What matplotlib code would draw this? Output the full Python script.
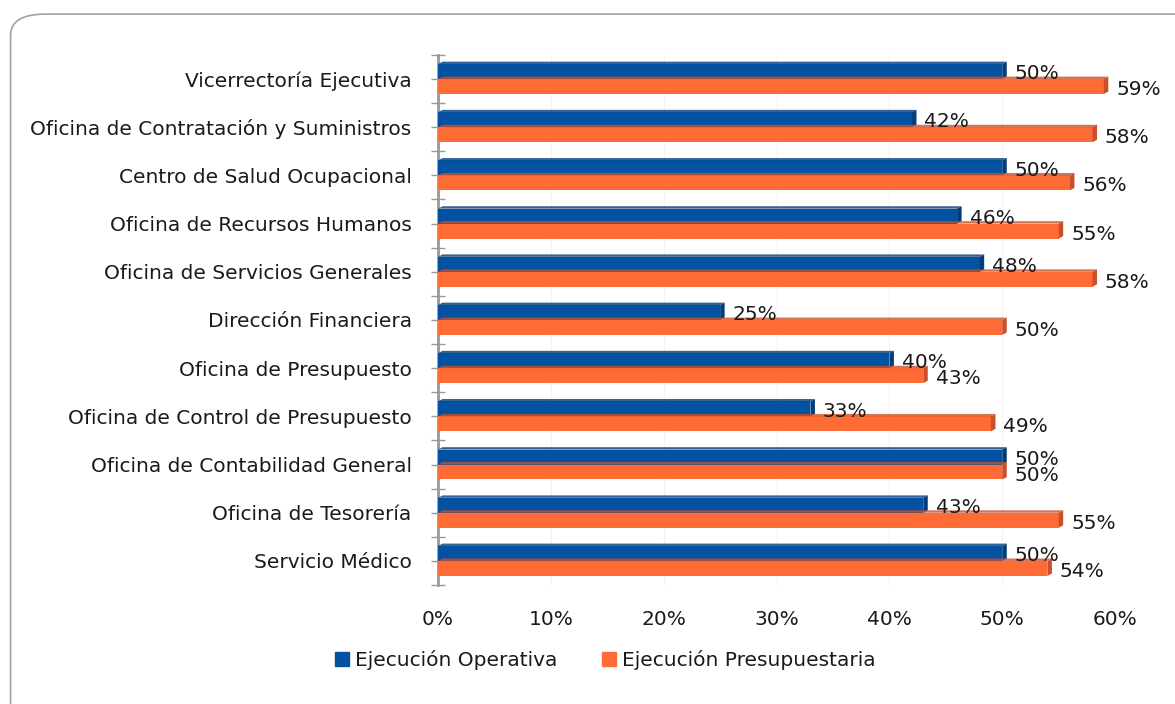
import matplotlib.pyplot as plt
from matplotlib.patches import FancyBboxPatch, Polygon, Patch
from matplotlib.ticker import FixedLocator
import numpy as np

categorias = ['Vicerrectoría Ejecutiva', 'Oficina de Contratación y Suministros',
              'Centro de Salud Ocupacional', 'Oficina de Recursos Humanos',
              'Oficina de Servicios Generales', 'Dirección Financiera',
              'Oficina de Presupuesto', 'Oficina de Control de Presupuesto',
              'Oficina de Contabilidad General', 'Oficina de Tesorería',
              'Servicio Médico']
operativa = [50, 42, 50, 46, 48, 25, 40, 33, 50, 43, 50]
presupuestaria = [59, 58, 56, 55, 58, 50, 43, 49, 50, 55, 54]
etiquetas_x = ['0%', '10%', '20%', '30%', '40%', '50%', '60%']

azul = '#0352A2'
naranja = '#FF6B35'
fs = 14.5

fig = plt.figure(figsize=(11.75, 7.04), dpi=100)
# marco redondeado
marco = FancyBboxPatch((0.009, -0.05), 1.05, 1.03, boxstyle='round,pad=0,rounding_size=0.03',
                       transform=fig.transFigure, fc='none', ec='#a0a0a0', lw=1.2, zorder=-1)
fig.patches.append(marco)

ax = fig.add_axes([0.3728, 0.169, 0.5762, 0.753])
ax.patch.set_alpha(0)
y = np.arange(len(categorias))
h = 0.31
ax.barh(y - 0.155, operativa, height=h, color=azul, zorder=3)
ax.barh(y + 0.155, presupuestaria, height=h, color=naranja, zorder=3)

# efecto 3D sencillo: extremo y borde superior mas oscuros
d = 0.4
for i in range(len(y)):
    for v, c, col in [(operativa[i], y[i] - 0.155, '#023d7a'), (presupuestaria[i], y[i] + 0.155, '#c9502a')]:
        ax.add_patch(Polygon([(v, c - h / 2), (v + d, c - h / 2 - 0.05), (v + d, c + h / 2 - 0.05), (v, c + h / 2)],
                             closed=True, fc=col, ec='none', zorder=4))
        ax.add_patch(Polygon([(0, c - h / 2), (d, c - h / 2 - 0.05), (v + d, c - h / 2 - 0.05), (v, c - h / 2)],
                             closed=True, fc=col, ec='none', zorder=4, alpha=0.8))

for i in range(len(y)):
    ax.text(operativa[i] + 1.1, y[i] - 0.11, f'{operativa[i]}%', va='center', ha='left',
            fontsize=fs, color='#1a1a1a', zorder=5)
    ax.text(presupuestaria[i] + 1.1, y[i] + 0.22, f'{presupuestaria[i]}%', va='center', ha='left',
            fontsize=fs, color='#1a1a1a', zorder=5)

ax.set_xlim(0, 60)
ax.set_ylim(len(categorias) - 0.5, -0.5)
ax.set_xticks(np.arange(0, 61, 10))
ax.set_xticklabels(etiquetas_x, fontsize=fs, color='#1a1a1a')
ax.set_yticks(y)
ax.set_yticklabels(categorias, fontsize=fs, color='#1a1a1a')
ax.yaxis.set_minor_locator(FixedLocator(np.arange(-0.5, len(categorias), 1)))
ax.tick_params(axis='y', which='both', direction='inout', length=10, width=1, color='#999999', pad=14)
ax.tick_params(axis='x', length=0, pad=18)
for s in ['top', 'right', 'bottom']:
    ax.spines[s].set_visible(False)
ax.spines['left'].set_color('#999999')
ax.spines['left'].set_linewidth(2)
ax.grid(axis='x', color='#f2f2f2', lw=0.8, zorder=0)

manijas = [Patch(color=azul, label='Ejecución Operativa'),
           Patch(color=naranja, label='Ejecución Presupuestaria')]
leg = fig.legend(handles=manijas, loc='center', bbox_to_anchor=(0.515, 0.063), ncol=2, frameon=False,
                 fontsize=fs, handlelength=0.7, handleheight=0.7, handletextpad=0.3, columnspacing=2.2)
for t in leg.get_texts():
    t.set_color('#1a1a1a')

fig.savefig('out.png', dpi=100)
